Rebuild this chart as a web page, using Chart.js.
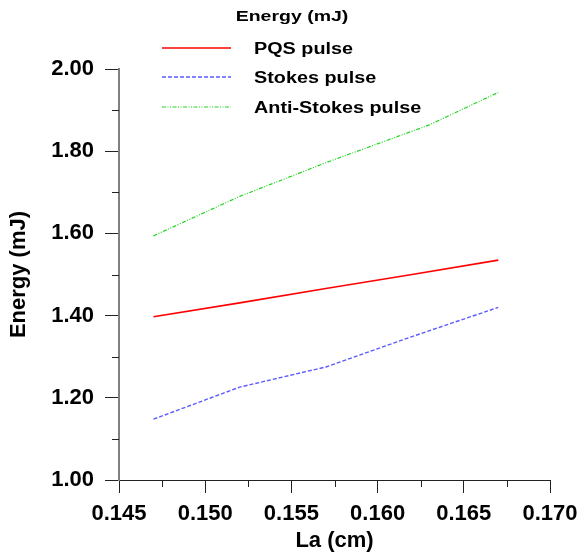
<!DOCTYPE html>
<html>
<head>
<meta charset="utf-8">
<script src="https://cdn.jsdelivr.net/npm/chart.js@4/dist/chart.umd.min.js"></script>
<style>
html,body{margin:0;padding:0;background:#fff;}
#wrap{width:581px;height:556px;}
</style>
</head>
<body>
<div id="wrap"><canvas id="c" width="581" height="556"></canvas></div>
<script>
// ---- data ----
const seriesNames = ['PQS pulse', 'Stokes pulse', 'Anti-Stokes pulse'];
const pqsX = [0.147, 0.152, 0.157, 0.162, 0.167];
const pqsY = [1.397, 1.431, 1.466, 1.500, 1.535];
const stokesX = [0.147, 0.152, 0.157, 0.162, 0.167];
const stokesY = [1.148, 1.226, 1.275, 1.349, 1.420];
const antiX = [0.147, 0.152, 0.157, 0.163, 0.167];
const antiY = [1.594, 1.690, 1.772, 1.864, 1.943];
const xTicks = [0.145, 0.150, 0.155, 0.160, 0.165, 0.170];
const yTicks = [1.00, 1.20, 1.40, 1.60, 1.80, 2.00];
const legendTitle = 'Energy (mJ)';
const xTitle = 'La (cm)';
const yTitle = 'Energy (mJ)';

const colors = ['#ff0000', '#5b5bff', '#22d422'];
const dashes = [[], [4, 2], [4, 1.5, 1, 1.5, 1, 1.5]];
const widths = [1.6, 1.4, 1.2];

function pts(xs, ys) { return xs.map((x, i) => ({x: x, y: ys[i]})); }

const FONT = '"Liberation Sans", Arial, sans-serif';

const overlay = {
  id: 'overlay',
  afterDraw(chart) {
    const ctx = chart.ctx;
    const xs = chart.scales.x, ys = chart.scales.y;
    const area = chart.chartArea;
    ctx.save();
    // minor ticks
    ctx.strokeStyle = '#222';
    ctx.lineWidth = 1;
    for (let i = 0; i < yTicks.length - 1; i++) {
      const v = (yTicks[i] + yTicks[i + 1]) / 2;
      const py = Math.round(ys.getPixelForValue(v)) + 0.5;
      ctx.beginPath(); ctx.moveTo(area.left - 7, py); ctx.lineTo(area.left, py); ctx.stroke();
    }
    for (let i = 0; i < xTicks.length - 1; i++) {
      const v = (xTicks[i] + xTicks[i + 1]) / 2;
      const px = Math.round(xs.getPixelForValue(v)) + 0.5;
      ctx.beginPath(); ctx.moveTo(px, area.bottom); ctx.lineTo(px, area.bottom + 7); ctx.stroke();
    }
    // legend title
    ctx.fillStyle = '#000';
    ctx.textBaseline = 'alphabetic';
    ctx.textAlign = 'center';
    ctx.font = 'bold 15px ' + FONT;
    ctx.save();
    ctx.translate(292, 20.5);
    ctx.scale(1.3, 1);
    ctx.fillText(legendTitle, 0, 0);
    ctx.restore();
    // legend entries
    const rowsY = [48, 77, 107];
    const baseY = [53.5, 83, 112.5];
    ctx.textAlign = 'left';
    ctx.font = 'bold 16.8px ' + FONT;
    for (let i = 0; i < seriesNames.length; i++) {
      ctx.strokeStyle = colors[i];
      ctx.lineWidth = widths[i];
      ctx.setLineDash(dashes[i]);
      ctx.beginPath(); ctx.moveTo(162, rowsY[i]); ctx.lineTo(231, rowsY[i]); ctx.stroke();
      ctx.setLineDash([]);
      ctx.save();
      ctx.translate(254, baseY[i]);
      ctx.scale(1.18, 1);
      ctx.fillText(seriesNames[i], 0, 0);
      ctx.restore();
    }
    ctx.restore();
  }
};

const datasets = [
  {label: seriesNames[0], data: pts(pqsX, pqsY)},
  {label: seriesNames[1], data: pts(stokesX, stokesY)},
  {label: seriesNames[2], data: pts(antiX, antiY)}
].map((d, i) => Object.assign(d, {
  showLine: true, borderColor: colors[i], borderWidth: widths[i], borderDash: dashes[i],
  pointRadius: 0, tension: 0, fill: false
}));

new Chart(document.getElementById('c'), {
  type: 'scatter',
  data: {datasets: datasets},
  options: {
    responsive: false,
    animation: false,
    devicePixelRatio: 1,
    layout: {padding: {top: 69, right: 31, left: 0, bottom: 0}},
    plugins: {legend: {display: false}, tooltip: {enabled: false}, title: {display: false}},
    scales: {
      x: {
        type: 'linear', min: xTicks[0], max: xTicks[xTicks.length - 1],
        afterBuildTicks: s => { s.ticks = xTicks.map(v => ({value: v})); },
        afterFit: s => { s.height = 76; s.paddingLeft = 0; s.paddingRight = 0; },
        ticks: {callback: v => Number(v).toFixed(3), color: '#000', padding: 8, maxRotation: 0,
                font: {family: FONT, size: 22, weight: 'bold'}},
        grid: {drawOnChartArea: false, drawTicks: true, tickLength: 13, color: '#222', lineWidth: 1},
        border: {display: true, color: '#222', width: 1},
        title: {display: true, text: xTitle, color: '#000', padding: {top: 0, bottom: 2},
                font: {family: FONT, size: 22, weight: 'bold'}}
      },
      y: {
        type: 'linear', min: yTicks[0], max: yTicks[yTicks.length - 1],
        afterBuildTicks: s => { s.ticks = yTicks.map(v => ({value: v})); },
        afterFit: s => { s.width = 119; s.paddingTop = 0; s.paddingBottom = 0; },
        ticks: {callback: v => Number(v).toFixed(2), color: '#000', padding: 11,
                font: {family: FONT, size: 22, weight: 'bold'}},
        grid: {drawOnChartArea: false, drawTicks: true, tickLength: 14, color: '#222', lineWidth: 1},
        border: {display: true, color: '#808080', width: 2},
        title: {display: true, text: yTitle, color: '#000', padding: {top: 6, bottom: 0},
                font: {family: FONT, size: 22, weight: 'bold'}}
      }
    }
  },
  plugins: [overlay]
});
</script>
</body>
</html>
